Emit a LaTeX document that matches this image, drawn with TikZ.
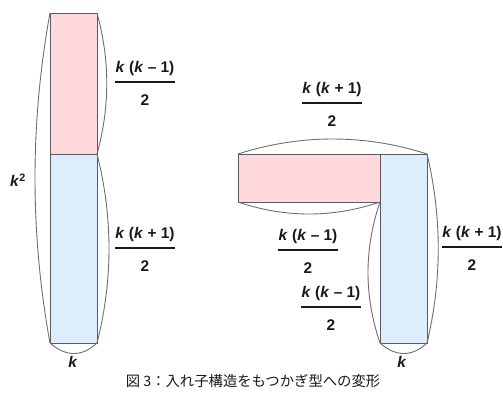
\documentclass[tikz,border=0pt]{standalone}
\usepackage{fontspec}
\setmainfont{Liberation Sans}
\newfontfamily\cjk{Noto Sans CJK JP}
\definecolor{pinkfill}{RGB}{255,216,219}
\definecolor{bluefill}{RGB}{221,237,253}
\definecolor{edge}{RGB}{90,90,90}
\definecolor{arcgray}{RGB}{110,110,110}
\definecolor{txt}{RGB}{25,25,25}
\tikzset{
  box/.style={draw=edge, line width=1pt, inner sep=0pt, outer sep=0pt},
  pinkbox/.style={box, fill=pinkfill},
  bluebox/.style={box, fill=bluefill},
  brace/.style={draw=arcgray, line width=0.9pt},
  lbl/.style={inner sep=0pt, text=txt, font=\fontsize{15.5}{17}\selectfont\bfseries},
  fracrule/.style={draw=txt, line width=1.7pt},
}
\newcommand\kk{\textit{k}}
\newcommand\fracnode[4]{%
  \node[lbl, anchor=base] (#1n) at (#2,#3-10) {#4};
  \node[lbl, anchor=base] (#1d) at (#2,#3+23) {2};
  \coordinate (#1r) at (#2,#3);
  \draw[fracrule] (#1n.west |- #1r) -- (#1n.east |- #1r);
}
\begin{document}
\begin{tikzpicture}[x=1bp,y=-1bp]
\useasboundingbox (0,0) rectangle (503,401);
% left figure
\node[pinkbox, minimum width=47bp, minimum height=141bp] (p1) at (73.5,83.5) {};
\node[bluebox, minimum width=47bp, minimum height=189bp] (b1) at (73.5,248.5) {};
\draw[brace] (p1.north west) .. controls (30,123) and (30,233) .. (b1.south west);
\draw[brace] (p1.north east) .. controls (110,60) and (110,107) .. (p1.south east);
\draw[brace] (b1.north east) .. controls (113,217) and (113,280) .. (b1.south east);
\draw[brace] (b1.south west) .. controls (66,357) and (82,357) .. (b1.south east);
\node[lbl] (k2) at (18,180) {\kk\textsuperscript{2}};
\node[lbl] (k1) at (73,362) {\kk};
\fracnode{fa}{145}{82}{\kk\ (\kk\ – 1)}
\fracnode{fb}{145}{248}{\kk\ (\kk\ + 1)}
% right figure
\node[pinkbox, minimum width=142bp, minimum height=48bp] (p2) at (309,178) {};
\node[bluebox, minimum width=47bp, minimum height=189bp] (b2) at (403.5,248.5) {};
\draw[brace] (p2.north west) .. controls (300,134) and (365,134) .. (b2.north east);
\draw[brace] (p2.south west) .. controls (285,218) and (333,218) .. (p2.south east);
\draw[brace] (p2.south east) .. controls (364,249) and (364,296) .. (b2.south west);
\draw[brace] (b2.north east) .. controls (442,217) and (442,280) .. (b2.south east);
\draw[brace] (b2.south west) .. controls (396,357) and (412,357) .. (b2.south east);
\node[lbl] (k3) at (402,362) {\kk};
\fracnode{fc}{332}{103}{\kk\ (\kk\ + 1)}
\fracnode{fd}{308}{250}{\kk\ (\kk\ – 1)}
\fracnode{fe}{331}{307}{\kk\ (\kk\ – 1)}
\fracnode{ff}{472}{247}{\kk\ (\kk\ + 1)}
% caption
\node[inner sep=0pt, text=txt, font=\cjk\fontsize{14.4}{16}\selectfont] (cap) at (253,381) {図 3：入れ子構造をもつかぎ型への変形};
\end{tikzpicture}
\end{document}
